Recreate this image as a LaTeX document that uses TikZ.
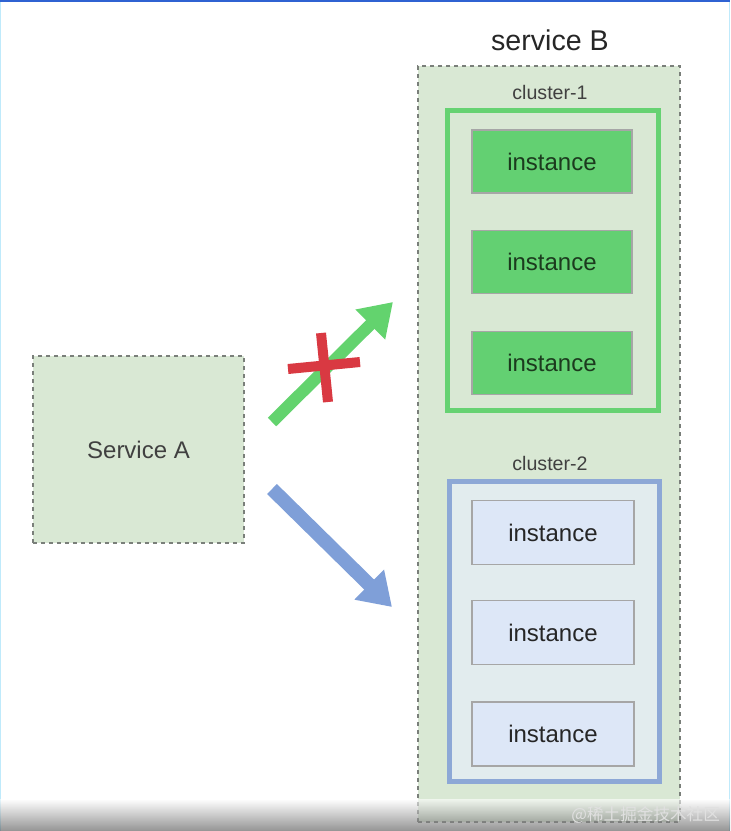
\documentclass[tikz,border=0pt]{standalone}
\usepackage{fontspec}
\setmainfont{Liberation Sans}
\newfontfamily\cjkfont{Noto Sans CJK SC}
\usetikzlibrary{arrows.meta}

\definecolor{svcfill}{HTML}{D9E8D4}
\definecolor{dashgray}{HTML}{7A7F7A}
\definecolor{greenline}{HTML}{66D272}
\definecolor{greeninst}{HTML}{63D072}
\definecolor{greentext}{HTML}{1C3A1E}
\definecolor{blueline}{HTML}{8DA8D6}
\definecolor{bluefill}{HTML}{E2ECEE}
\definecolor{blueinst}{HTML}{DDE7F7}
\definecolor{arrowgreen}{HTML}{63D36E}
\definecolor{arrowblue}{HTML}{7F9FD8}
\definecolor{crossred}{HTML}{D93942}
\definecolor{topblue}{HTML}{2F62D2}

\tikzset{
  svcbox/.style={draw=dashgray, line width=0.7pt, dash pattern=on 2pt off 2pt,
    fill=svcfill, inner sep=0pt},
  clusterbox/.style={line width=2.5pt, inner sep=0pt},
  instbox/.style={draw=gray!70, line width=0.6pt, inner sep=0pt,
    minimum width=80pt, minimum height=31.5pt, font=\fontsize{12}{14}\selectfont},
  lbl/.style={text=black!75, inner sep=0pt},
  fatarrow/.style={line width=6pt, -{Triangle[width=20pt, length=16pt]}},
}

\begin{document}
\begin{tikzpicture}[x=0.5pt, y=-0.5pt]
  \useasboundingbox (0,0) rectangle (730,831);

  \draw[topblue, line width=1pt] (0,1) -- (730,1);
  \draw[cyan!25, line width=0.6pt] (0.5,2) -- (0.5,831);
  \draw[cyan!25, line width=0.6pt] (729.5,2) -- (729.5,831);

  % service A
  \node[svcbox, minimum width=105.5pt, minimum height=93.5pt] (svcA) at (138.5,449.5) {};
  \node[lbl, font=\fontsize{12}{14}\selectfont] at (svcA) {Service A};

  % service B
  \node[svcbox, minimum width=131pt, minimum height=378pt] (svcB) at (549,444) {};
  \node[lbl, text=black!85, font=\fontsize{14.3}{16}\selectfont] (svcBlabel) at (550,40) {service B};

  \node[clusterbox, draw=greenline, fill=svcfill,
    minimum width=105.5pt, minimum height=150pt] (cl1) at (553,260.5) {};
  \node[lbl, font=\fontsize{9.8}{12}\selectfont] (cl1label) at (550,92) {cluster-1};

  \node[clusterbox, draw=blueline, fill=bluefill,
    minimum width=105pt, minimum height=150pt] (cl2) at (554.5,631.5) {};
  \node[lbl, font=\fontsize{9.8}{12}\selectfont] (cl2label) at (550,463) {cluster-2};

  \foreach \y [count=\i] in {161.5, 262, 363} {
    \node[instbox, fill=greeninst, text=greentext] (g\i) at (552,\y) {instance};
  }
  \foreach \y [count=\i] in {532.5, 632.5, 734} {
    \node[instbox, fill=blueinst, text=black!85, minimum width=81pt, minimum height=32pt]
      (b\i) at (553,\y) {instance};
  }

  % arrows
  \coordinate (G0) at (272,422);
  \coordinate (G1) at (393,302);
  \coordinate (B0) at (272,489);
  \coordinate (B1) at (392,607);
  \draw[fatarrow, arrowgreen] (G0) -- (G1);
  \draw[fatarrow, arrowblue, line width=7pt] (B0) -- (B1);

  \coordinate (X1) at (288,369);
  \coordinate (X2) at (360,362);
  \coordinate (X3) at (321,333);
  \coordinate (X4) at (328,402);
  \draw[crossred, line width=5pt] (X1) -- (X2);
  \draw[crossred, line width=5pt] (X3) -- (X4);

  \shade[top color=white, bottom color=black!70, opacity=0.6] (0,799) rectangle (730,831);
  \node[text=white!88!black, font=\cjkfont\fontsize{8.3}{10}\selectfont, anchor=east]
    (mark) at (727,815) {@稀土掘金技术社区};
\end{tikzpicture}
\end{document}
